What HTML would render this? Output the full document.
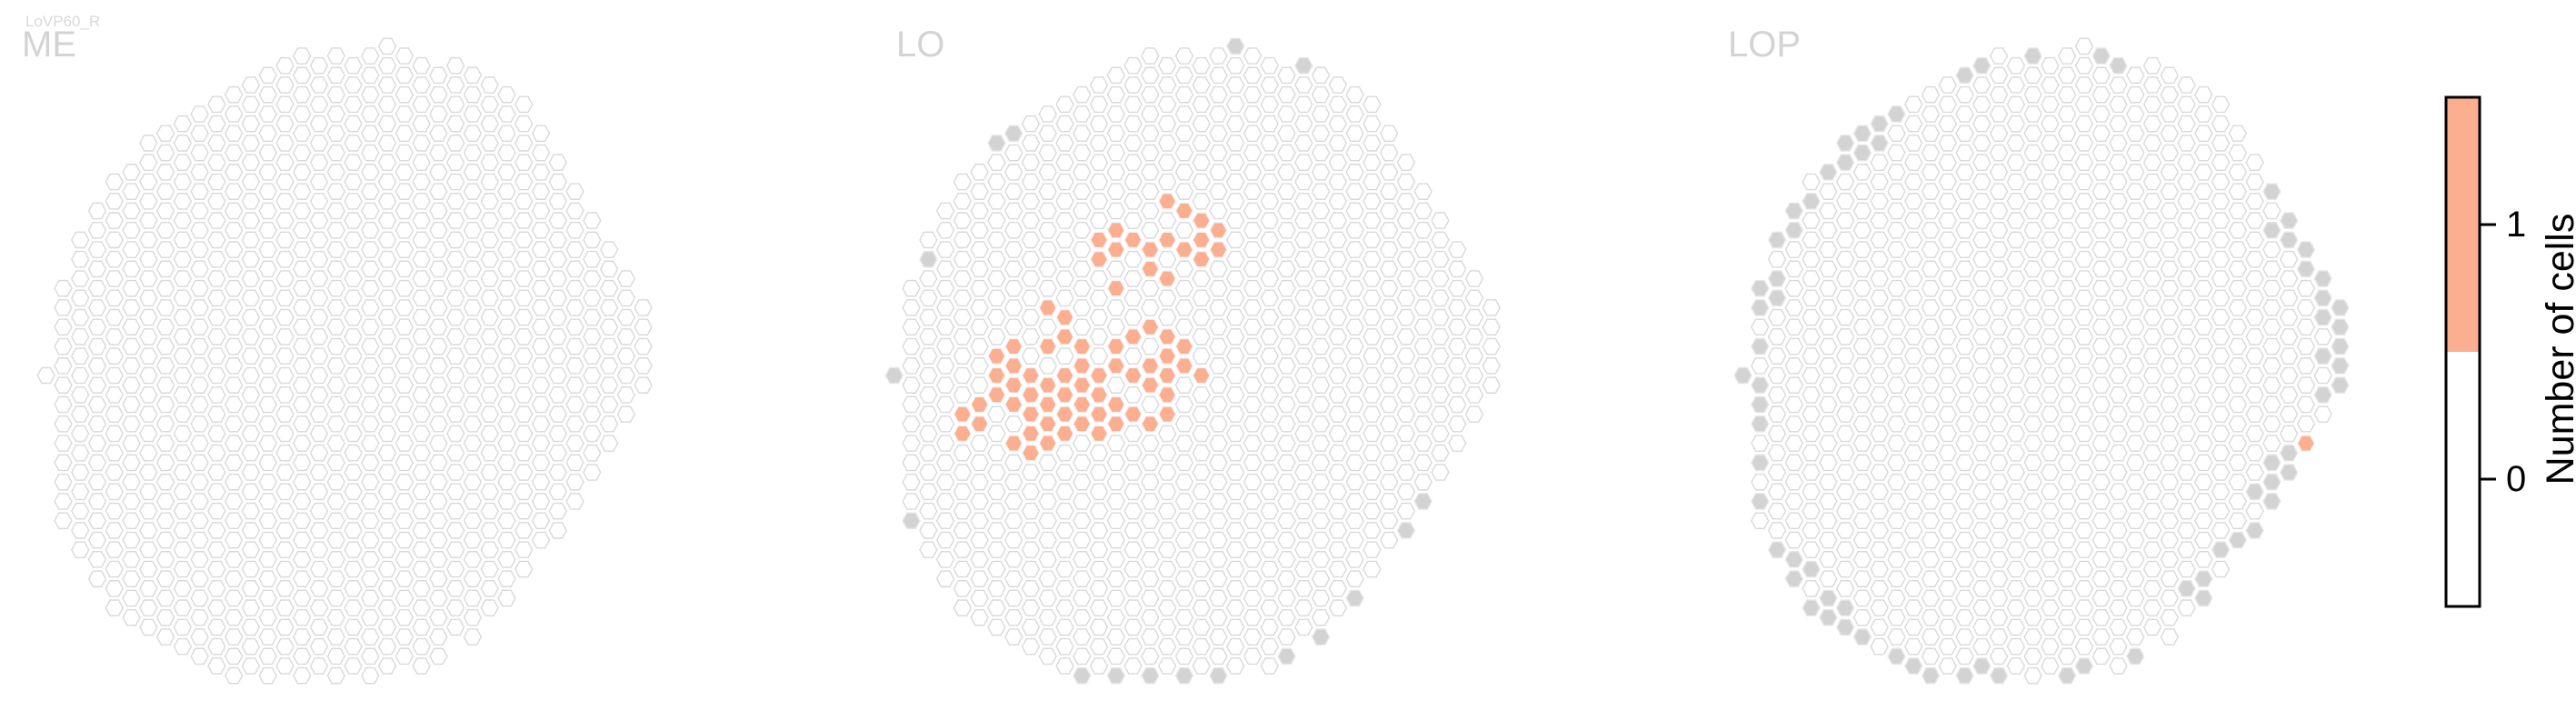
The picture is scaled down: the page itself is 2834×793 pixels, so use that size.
<!DOCTYPE html>
<html><head><meta charset="utf-8"><style>
html,body{margin:0;padding:0;background:#fff;}
svg{display:block;font-family:"Liberation Sans",sans-serif;}
</style></head><body>
<svg id="chart" width="2834" height="793" viewBox="0 0 2834 793" xmlns="http://www.w3.org/2000/svg">
<text x="28" y="29" font-size="17" fill="#d9d9d9">LoVP60_R</text>
<text x="24" y="62" font-size="40" fill="#d3d3d3">ME</text>
<text x="986" y="62" font-size="40" fill="#d3d3d3">LO</text>
<text x="1901" y="62" font-size="40" fill="#d3d3d3">LOP</text>
<g id="panels"></g>
<g>
  <rect x="2691" y="107" width="37" height="280" fill="#fcae91"/>
  <rect x="2691" y="387" width="37" height="280" fill="#ffffff"/>
  <rect x="2691" y="107" width="37" height="560" fill="none" stroke="#000" stroke-width="3"/>
  <line x1="2728" y1="247" x2="2746" y2="247" stroke="#000" stroke-width="3"/>
  <line x1="2728" y1="527" x2="2746" y2="527" stroke="#000" stroke-width="3"/>
  <text x="2757" y="247" font-size="40" dominant-baseline="central">1</text>
  <text x="2757" y="527" font-size="40" dominant-baseline="central">0</text>
  <text x="0" y="0" font-size="43" text-anchor="middle" dominant-baseline="central" transform="translate(2817,384) rotate(-90)">Number of cells</text>
</g>
</svg>
<script>
// grid column extents (hex row index, half-row units) for columns 0..35
const colKMin = [0,-9,-14,-17,-20,-21,-24,-25,-26,-27,-28,-29,-30,-31,-32,-33,-32,-33,-32,-33,-34,-33,-32,-31,-32,-31,-30,-29,-28,-25,-22,-19,-16,-13,-10,-7];
const colKMax = [0,15,18,21,24,25,26,27,28,29,30,31,30,31,30,31,30,31,30,31,30,29,30,29,26,27,24,23,20,17,16,13,10,7,4,1];
const panelNames = ["me","lo","lop"];
// cells with count 1 (orange) per panel
const meCells1 = [];
const loCells1 = [[16,-18],[17,-17],[18,-16],[19,-15],[13,-15],[12,-14],[14,-14],[16,-14],[18,-14],[13,-13],[15,-13],[17,-13],[19,-13],[12,-12],[18,-12],[15,-11],[16,-10],[13,-9],[9,-7],[10,-6],[10,-4],[15,-5],[14,-4],[16,-4],[7,-3],[9,-3],[11,-3],[13,-3],[17,-3],[6,-2],[16,-2],[7,-1],[11,-1],[13,-1],[15,-1],[17,-1],[6,0],[8,0],[10,0],[12,0],[14,0],[16,0],[18,0],[7,1],[9,1],[11,1],[15,1],[6,2],[8,2],[10,2],[12,2],[16,2],[5,3],[7,3],[9,3],[11,3],[13,3],[4,4],[8,4],[10,4],[12,4],[14,4],[16,4],[5,5],[9,5],[11,5],[13,5],[15,5],[4,6],[8,6],[10,6],[12,6],[7,7],[9,7],[8,8]];
const lopCells1 = [[33,7]];
// columns absent from the neuropil (grey)
const meMissing = [];
const loMissing = [[20,-34],[24,-32],[7,-25],[6,-24],[2,-12],[0,0],[1,15],[31,13],[30,16],[27,23],[25,27],[23,29],[11,31],[13,31],[15,31],[17,31],[19,31]];
const lopMissing = [[17,-33],[21,-33],[14,-32],[22,-32],[13,-31],[9,-27],[8,-26],[7,-25],[6,-24],[8,-24],[7,-23],[6,-22],[5,-21],[4,-18],[3,-17],[3,-15],[2,-14],[2,-10],[1,-9],[2,-8],[1,-7],[1,-3],[0,0],[1,1],[1,3],[1,5],[1,9],[1,13],[2,18],[3,19],[4,20],[3,21],[5,23],[4,24],[6,24],[5,25],[6,26],[7,27],[9,29],[10,30],[11,31],[13,31],[14,30],[15,31],[19,31],[20,30],[23,29],[27,21],[26,22],[27,23],[28,18],[29,17],[30,16],[30,12],[31,11],[31,13],[32,10],[31,9],[32,8],[34,2],[35,1],[35,-1],[34,-2],[35,-3],[35,-5],[34,-6],[35,-7],[34,-8],[34,-10],[33,-11],[33,-13],[32,-14],[31,-15],[32,-16],[31,-19]];

const cells1 = [meCells1, loCells1, lopCells1];
const missing = [meMissing, loMissing, lopMissing];
const panelX0 = [50.7, 983.8, 1917.5];
const Y0 = 413, COLP = 18.77, HALFR = 10.65, RX = 9.4, RY = 8.6;
const NS = "http://www.w3.org/2000/svg";
function xPos(p, c){ return panelX0[p] + c*COLP; }
function yPos(k){ return Y0 + k*HALFR; }
function hexPts(cx, cy){
  const h = RX/2;
  return [[cx-RX,cy],[cx-h,cy-RY],[cx+h,cy-RY],[cx+RX,cy],[cx+h,cy+RY],[cx-h,cy+RY]].map(q=>q[0].toFixed(2)+","+q[1].toFixed(2)).join(" ");
}
const root = document.getElementById("panels");
for (let p=0; p<3; p++){
  const g = document.createElementNS(NS,"g");
  
  
  root.appendChild(g);
  const key = (c,k)=>c+"_"+k;
  const one = new Set(cells1[p].map(a=>key(a[0],a[1])));
  const miss = new Set(missing[p].map(a=>key(a[0],a[1])));
  for (let c=0; c<colKMin.length; c++){
    for (let k=colKMin[c]; k<=colKMax[c]; k+=2){
      const poly = document.createElementNS(NS,"polygon");
      poly.setAttribute("points", hexPts(xPos(p,c), yPos(k)));
      let fill="#ffffff", stroke="#d9d9d9", name="hex-cell";
      if (one.has(key(c,k))){ fill="#fcae91"; stroke="#f3f3f3"; name="hex-cell-count-1"; }
      else if (miss.has(key(c,k))){ fill="#d3d3d3"; stroke="#e6e6e6"; name="hex-cell-missing"; }
      poly.setAttribute("fill", fill);
      poly.setAttribute("stroke", stroke);
      poly.setAttribute("stroke-width", "1.4");
      
      
      g.appendChild(poly);
    }
  }
}
</script>
</body></html>
